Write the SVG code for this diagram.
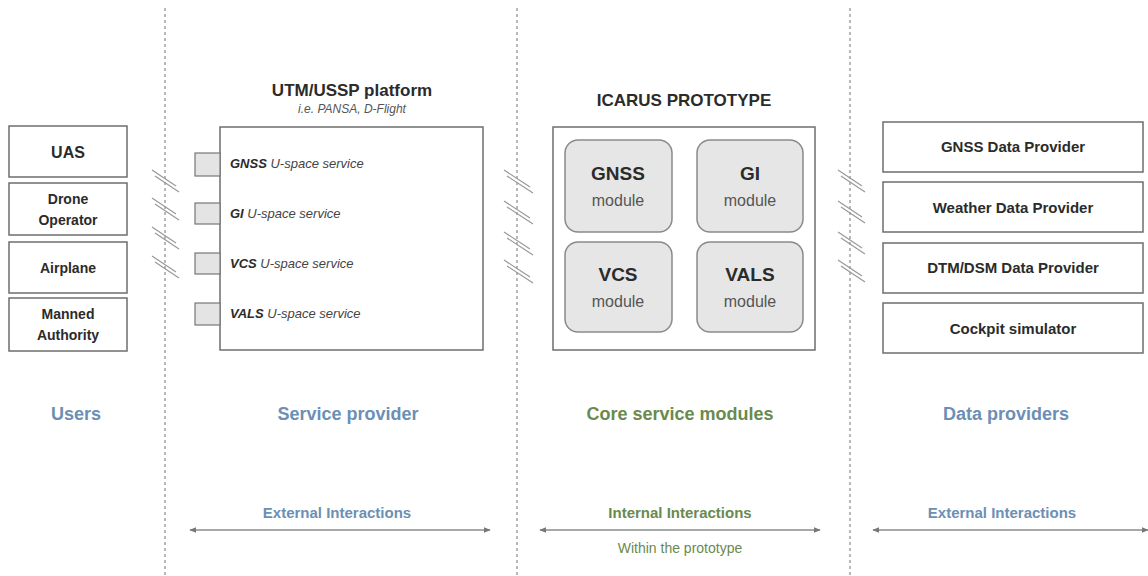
<svg xmlns="http://www.w3.org/2000/svg" width="1148" height="576" viewBox="0 0 1148 576">
<style>
text{font-family:"Liberation Sans",Arial,sans-serif;}
.box{fill:#fff;stroke:#6e6e6e;stroke-width:1.5;}
.bt{font-weight:bold;fill:#2b2b2b;text-anchor:middle;}
.mod{fill:#e6e6e6;stroke:#8a8a8a;stroke-width:1.5;}
.port{fill:#e4e4e4;stroke:#777;stroke-width:1.2;}
.sep{stroke:#8a8a8a;stroke-width:1.2;stroke-dasharray:3 3;fill:none;}
.hatch{stroke:#999;stroke-width:1.2;fill:none;}
.arr{stroke:#8a8f8a;stroke-width:1.4;fill:none;marker-start:url(#ah);marker-end:url(#ah);}
.cat{font-weight:bold;font-size:18px;text-anchor:middle;}
.blue{fill:#6b8fb5;}
.green{fill:#6a8a4e;}
</style>
<defs>
<marker id="ah" viewBox="0 0 10 10" refX="9" refY="5" markerWidth="5" markerHeight="5" orient="auto-start-reverse">
<path d="M0,1 L10,5 L0,9 z" fill="#777"/>
</marker>
</defs>
<g id="separators">
<line class="sep" x1="165" y1="8" x2="165" y2="576"/>
<line class="sep" x1="517" y1="8" x2="517" y2="576"/>
<line class="sep" x1="850" y1="8" x2="850" y2="576"/>
</g>
<g id="connectors">
<g class="hatch">
<path d="M152,170 L176,186 M155,176 L179,192"/>
<path d="M152,198 L176,214 M155,204 L179,220"/>
<path d="M152,227 L176,243 M155,233 L179,249"/>
<path d="M152,256 L176,272 M155,262 L179,278"/>
<path d="M504,170 L530,187 M507,176 L533,193"/>
<path d="M504,201 L530,218 M507,207 L533,224"/>
<path d="M504,232 L530,249 M507,238 L533,255"/>
<path d="M504,260 L530,277 M507,266 L533,283"/>
<path d="M838,170 L862,186 M841,176 L865,192"/>
<path d="M838,201 L862,217 M841,207 L865,223"/>
<path d="M838,232 L862,248 M841,238 L865,254"/>
<path d="M838,260 L862,276 M841,266 L865,282"/>
</g>
<line class="arr" x1="190" y1="530" x2="490" y2="530"/>
<line class="arr" x1="540" y1="530" x2="820" y2="530"/>
<line class="arr" x1="873" y1="530" x2="1148" y2="530"/>
</g>
<g id="users">
<g id="uas"><rect class="box" x="9" y="126" width="118" height="51"/><text class="bt" x="68" y="158" font-size="16">UAS</text></g>
<g id="drone-operator"><rect class="box" x="9" y="183" width="118" height="52"/><text class="bt" x="68" y="204" font-size="14">Drone</text><text class="bt" x="68" y="225" font-size="14">Operator</text></g>
<g id="airplane"><rect class="box" x="9" y="242" width="118" height="51"/><text class="bt" x="68" y="273" font-size="14">Airplane</text></g>
<g id="manned-authority"><rect class="box" x="9" y="298" width="118" height="53"/><text class="bt" x="68" y="319" font-size="14">Manned</text><text class="bt" x="68" y="340" font-size="14">Authority</text></g>
</g>
<g id="utm-platform">
<text class="bt" x="352" y="96" font-size="17">UTM/USSP platform</text>
<text x="352" y="113" font-size="12" font-style="italic" fill="#555" text-anchor="middle">i.e. PANSA, D-Flight</text>
<rect class="box" x="220" y="127" width="263" height="223"/>
<rect class="port" x="195" y="153" width="25" height="23"/>
<rect class="port" x="195" y="203" width="25" height="21"/>
<rect class="port" x="195" y="253" width="25" height="21"/>
<rect class="port" x="195" y="303" width="25" height="22"/>
<g font-size="13" font-style="italic" fill="#444">
<text x="230" y="168"><tspan font-weight="bold" fill="#2b2b2b">GNSS</tspan> U-space service</text>
<text x="230" y="218"><tspan font-weight="bold" fill="#2b2b2b">GI</tspan> U-space service</text>
<text x="230" y="268"><tspan font-weight="bold" fill="#2b2b2b">VCS</tspan> U-space service</text>
<text x="230" y="318"><tspan font-weight="bold" fill="#2b2b2b">VALS</tspan> U-space service</text>
</g>
</g>
<g id="icarus">
<text class="bt" x="684" y="106" font-size="17">ICARUS PROTOTYPE</text>
<rect class="box" x="553" y="127" width="262" height="223"/>
<g id="gnss-module"><rect class="mod" x="565" y="140" width="107" height="92" rx="13"/><text class="bt" x="618" y="180" font-size="19">GNSS</text><text x="618" y="206" font-size="16" fill="#555" text-anchor="middle">module</text></g>
<g id="gi-module"><rect class="mod" x="697" y="140" width="106" height="92" rx="13"/><text class="bt" x="750" y="180" font-size="19">GI</text><text x="750" y="206" font-size="16" fill="#555" text-anchor="middle">module</text></g>
<g id="vcs-module"><rect class="mod" x="565" y="242" width="107" height="90" rx="13"/><text class="bt" x="618" y="281" font-size="19">VCS</text><text x="618" y="307" font-size="16" fill="#555" text-anchor="middle">module</text></g>
<g id="vals-module"><rect class="mod" x="697" y="242" width="106" height="90" rx="13"/><text class="bt" x="750" y="281" font-size="19">VALS</text><text x="750" y="307" font-size="16" fill="#555" text-anchor="middle">module</text></g>
</g>
<g id="data-providers">
<g id="gnss-dp"><rect class="box" x="883" y="122" width="260" height="50"/><text class="bt" x="1013" y="152" font-size="15">GNSS Data Provider</text></g>
<g id="weather-dp"><rect class="box" x="883" y="182" width="260" height="50"/><text class="bt" x="1013" y="213" font-size="15">Weather Data Provider</text></g>
<g id="dtm-dp"><rect class="box" x="883" y="243" width="260" height="50"/><text class="bt" x="1013" y="273" font-size="15">DTM/DSM Data Provider</text></g>
<g id="cockpit"><rect class="box" x="883" y="303" width="260" height="50"/><text class="bt" x="1013" y="334" font-size="15">Cockpit simulator</text></g>
</g>
<g id="labels">
<text class="cat blue" x="76" y="420">Users</text>
<text class="cat blue" x="348" y="420">Service provider</text>
<text class="cat green" x="680" y="420">Core service modules</text>
<text class="cat blue" x="1006" y="420">Data providers</text>
<text x="337" y="518" font-size="15" font-weight="bold" fill="#6b8fb5" text-anchor="middle">External Interactions</text>
<text x="680" y="518" font-size="15" font-weight="bold" fill="#6a8a4e" text-anchor="middle">Internal Interactions</text>
<text x="680" y="553" font-size="14" fill="#6a8a4e" text-anchor="middle">Within the prototype</text>
<text x="1002" y="518" font-size="15" font-weight="bold" fill="#6b8fb5" text-anchor="middle">External Interactions</text>
</g>
</svg>
